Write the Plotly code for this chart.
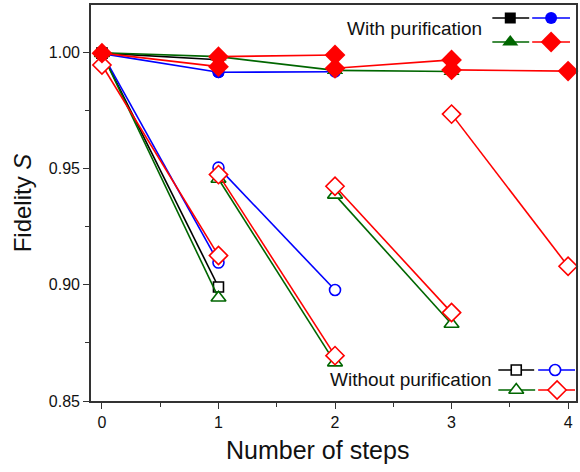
import plotly.graph_objects as go

# ---------------- data ----------------
steps = [0, 1, 2, 3, 4]

# Without purification: segment k runs from step k to step k+1
noP_black = [[0.9995, 0.8990]]
noP_blue = [[0.9995, 0.9095], [0.9503, 0.8977]]
noP_green = [[0.9995, 0.8944], [0.9454, 0.8665], [0.9386, 0.8831]]
noP_red = [[0.9944, 0.9125], [0.9473, 0.8695], [0.9423, 0.8880], [0.9733, 0.9079]]

# With purification
P_black = [[0.9995, 0.9967]]
P_blue = [[0.9993, 0.9913], [0.9913, 0.9915]]
P_green = [[0.9997, 0.9980], [0.9980, 0.9921], [0.9921, 0.9916]]
P_red = [[0.9995, 0.9937], [0.9980, 0.9987], [0.9930, 0.9966], [0.9923, 0.9918]]

x_ticks = [0, 1, 2, 3, 4]
y_ticks = [0.85, 0.90, 0.95, 1.00]
y_tick_text = ["0.85", "0.90", "0.95", "1.00"]

legend_with = "With purification"
legend_without = "Without purification"
x_title = "Number of steps"
y_title = "Fidelity <i>S</i>"

# ---------------- styles ----------------
BLACK = "#000000"
BLUE = "#0000ff"
GREEN = "#006600"
RED = "#ff0000"
FONT = "Liberation Sans, Arial, sans-serif"

series = [
    (noP_black, BLACK, "square", 10, True),
    (noP_blue, BLUE, "circle", 11, True),
    (noP_green, GREEN, "triangle-up", 13, True),
    (noP_red, RED, "diamond", 14, True),
    (P_black, BLACK, "square", 11, False),
    (P_blue, BLUE, "circle", 12, False),
    (P_green, GREEN, "triangle-up", 14, False),
    (P_red, RED, "diamond", 16, False),
]


def seg_xy(segs):
    xs, ys = [], []
    for k, (a, b) in enumerate(segs):
        xs += [steps[k], steps[k + 1], None]
        ys += [a, b, None]
    return xs, ys


fig = go.Figure()
for segs, col, sym, size, hollow in series:
    xs, ys = seg_xy(segs)
    fig.add_trace(go.Scatter(
        x=xs, y=ys, mode="lines+markers",
        line=dict(color=col, width=1.6),
        marker=dict(symbol=sym, size=size,
                    color="white" if hollow else col,
                    line=dict(color=col, width=1.6 if hollow else 0)),
        showlegend=False, hoverinfo="skip", cliponaxis=False,
    ))

# ---------------- custom legend (pixel-like overlay axis) ----------------
legend_items = [
    # (x_line0, x_line1, x_marker, y, color, symbol, size, hollow)
    (494, 531, 512, 18, BLACK, "square", 11, False),
    (534, 572, 553, 18, BLUE, "circle", 12, False),
    (494, 531, 512, 42, GREEN, "triangle-up", 14, False),
    (534, 572, 553, 42, RED, "diamond", 16, False),
    (500, 536, 518, 370, BLACK, "square", 10, True),
    (540, 577, 557, 370, BLUE, "circle", 11, True),
    (500, 537, 518, 390, GREEN, "triangle-up", 13, True),
    (540, 577, 559, 390, RED, "diamond", 14, True),
]
for x0, x1, xm, yy, col, sym, size, hollow in legend_items:
    fig.add_trace(go.Scatter(
        x=[x0, x1], y=[yy, yy], mode="lines", line=dict(color=col, width=1.6),
        xaxis="x2", yaxis="y2", showlegend=False, hoverinfo="skip", cliponaxis=False))
    fig.add_trace(go.Scatter(
        x=[xm], y=[yy], mode="markers",
        marker=dict(symbol=sym, size=size, color="white" if hollow else col,
                    line=dict(color=col, width=1.6 if hollow else 0)),
        xaxis="x2", yaxis="y2", showlegend=False, hoverinfo="skip", cliponaxis=False))

fig.add_annotation(x=486, y=28, xref="x2", yref="y2", text=legend_with,
                   showarrow=False, xanchor="right", yanchor="middle",
                   font=dict(family=FONT, size=19, color="#111"))
fig.add_annotation(x=496, y=379, xref="x2", yref="y2", text=legend_without,
                   showarrow=False, xanchor="right", yanchor="middle",
                   font=dict(family=FONT, size=19, color="#111"))
# x-axis title (slightly left of centre, as in the reference)
fig.add_annotation(x=(318 - 91) / 487, y=(401 - 450) / 396, xref="paper", yref="paper",
                   text=x_title, showarrow=False, xanchor="center", yanchor="middle",
                   font=dict(family=FONT, size=25, color="#111"))

axis_common = dict(
    showgrid=False, zeroline=False, showline=True, linecolor="#333333",
    linewidth=1.6, mirror=True, ticks="outside", ticklen=6, tickwidth=1.4,
    tickcolor="#333333", tickfont=dict(family=FONT, size=16, color="#111"),
)

fig.update_layout(
    width=580, height=472,
    margin=dict(l=91, r=2, t=5, b=71),
    paper_bgcolor="white", plot_bgcolor="white",
    font=dict(family=FONT, color="#111"),
    xaxis=dict(range=[-0.094, 4.068], tickvals=x_ticks,
               minor=dict(ticks="outside", ticklen=4, tickwidth=1.4,
                          tickcolor="#333333", dtick=0.5, tick0=0),
               **axis_common),
    yaxis=dict(range=[0.85, 1.0202], tickvals=y_ticks, ticktext=y_tick_text,
               minor=dict(ticks="outside", ticklen=4, tickwidth=1.4,
                          tickcolor="#333333", dtick=0.025, tick0=0.85),
               title=dict(text=y_title, font=dict(family=FONT, size=24),
                          standoff=10),
               **axis_common),
    xaxis2=dict(range=[91, 578], overlaying="x", visible=False, fixedrange=True),
    yaxis2=dict(range=[401, 5], overlaying="y", visible=False, fixedrange=True),
)

fig.write_html("out.html")
